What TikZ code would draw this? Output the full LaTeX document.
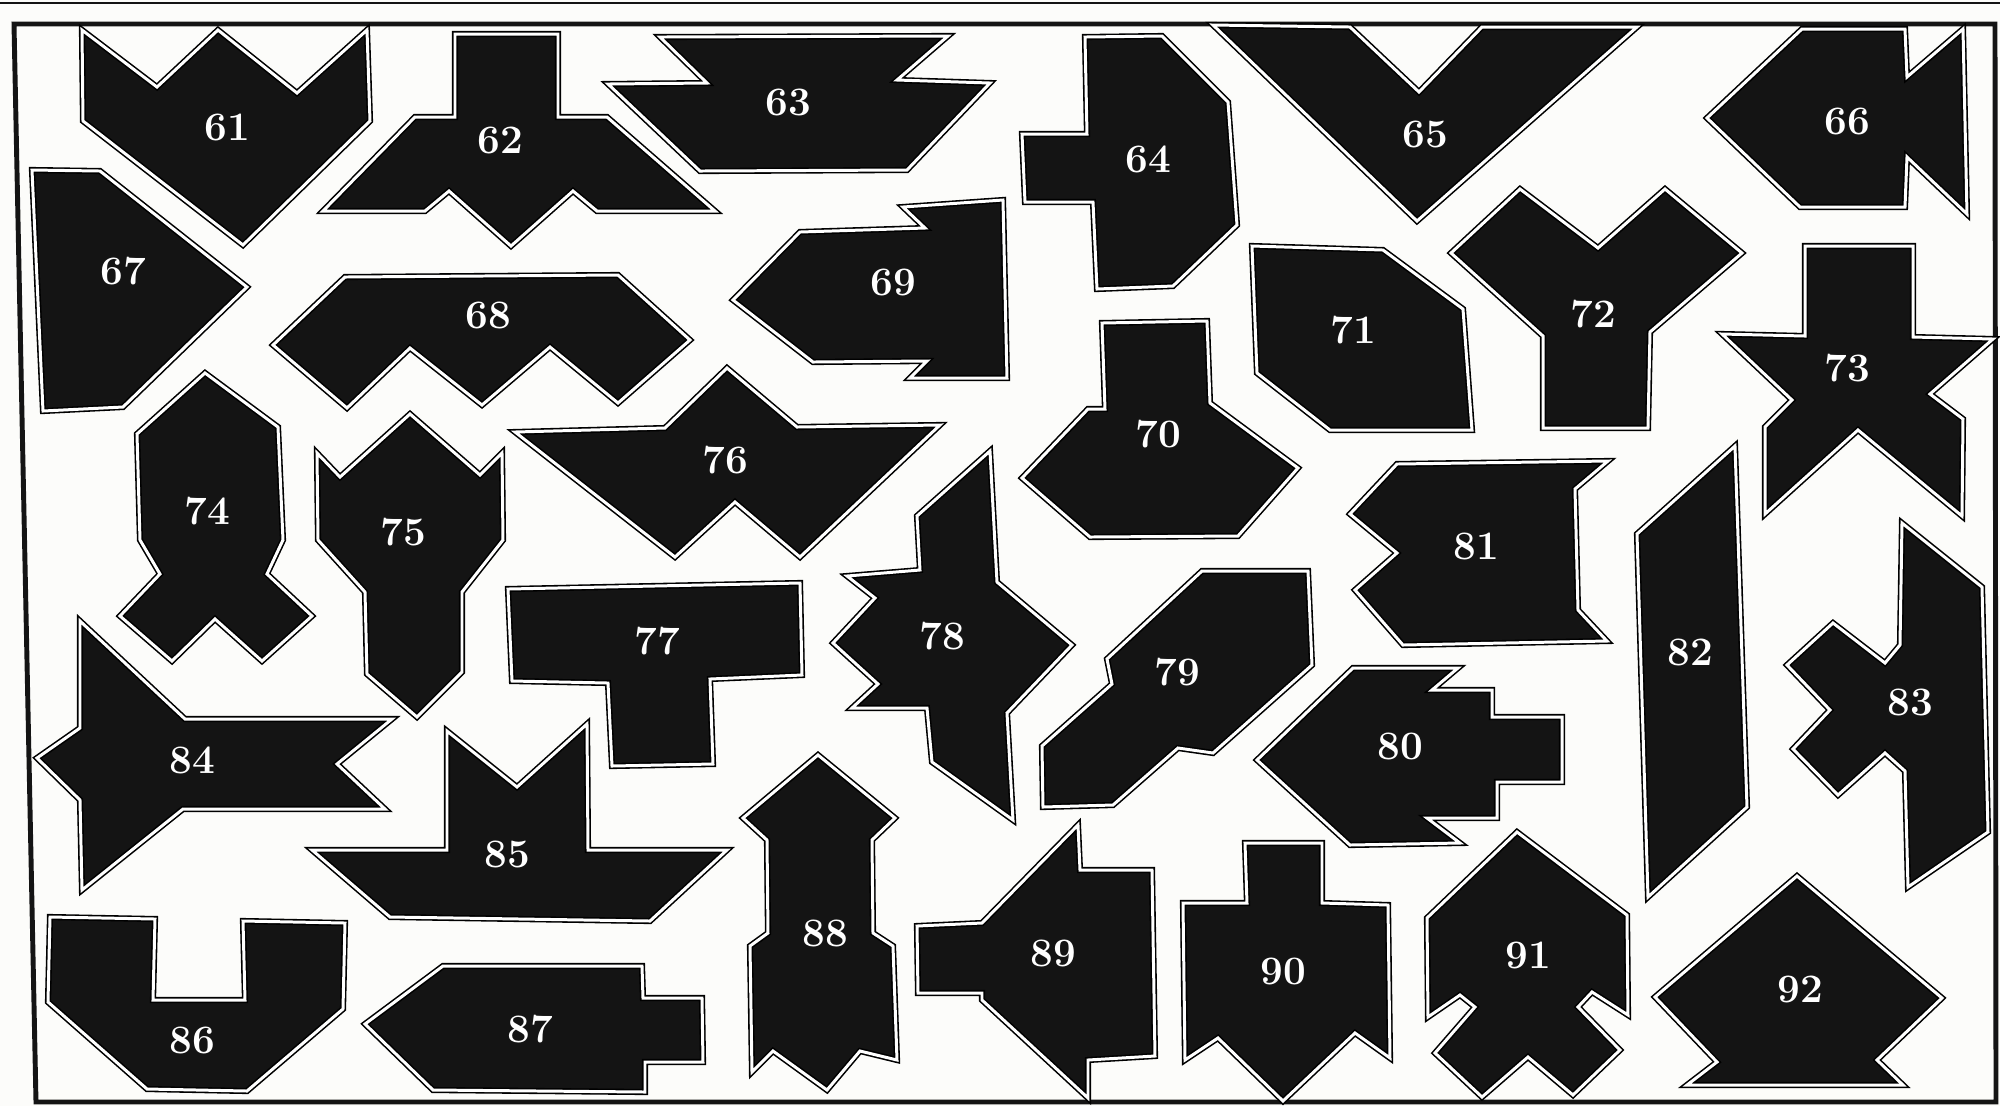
\documentclass[tikz,border=0pt]{standalone}
\usepackage{tikz}
\definecolor{ink}{RGB}{20,20,20}
\definecolor{paper}{RGB}{252,252,250}

\begin{document}
\begin{tikzpicture}[
    x=0.1mm, y=-0.1mm,
    piece/.style={fill=ink, draw=black, double=white, double distance=0.85pt,
                  line width=0.45pt, line join=miter},
    num/.style={text=white, font=\fontsize{11.5}{13}\selectfont\bfseries, inner sep=0pt},
    rule/.style={draw=ink, line width=1.4pt}
]
    \useasboundingbox (0,0) rectangle (2000,1106);
    \fill[paper] (0,0) rectangle (2000,1106);

    % frame
    \draw[ink, line width=0.8pt] (0,3) -- (2000,3);
    \draw[rule] (14,24) -- (1995,24) -- (1996,1102) -- (36,1102) -- cycle;

    % top row
    \draw[piece] (82,30) -- (157,87) -- (218,30) -- (297,93) -- (367,30)
        -- (370,121) -- (243,245) -- (83,121) -- cycle;
    \draw[piece] (455,34) -- (558,34) -- (558,117) -- (607,117) -- (715,211)
        -- (597,211) -- (573,191) -- (511,246) -- (449,191) -- (425,211)
        -- (323,211) -- (415,117) -- (455,117) -- cycle;
    \draw[piece] (660,37) -- (948,36) -- (897,80) -- (990,83) -- (907,170)
        -- (700,171) -- (608,84) -- (707,83) -- cycle;
    \draw[piece] (1085,37) -- (1162,36) -- (1228,102) -- (1237,225) -- (1173,286)
        -- (1097,289) -- (1093,202) -- (1025,202) -- (1022,134) -- (1087,134) -- cycle;
    \draw[piece] (1213,25) -- (1350,27) -- (1419,92) -- (1482,27) -- (1637,27)
        -- (1417,221) -- cycle;
    \draw[piece] (1707,118) -- (1802,29) -- (1905,29) -- (1907,77) -- (1963,29)
        -- (1967,214) -- (1907,157) -- (1905,207) -- (1800,207) -- cycle;

    % second row
    \draw[piece] (32,170) -- (100,171) -- (247,287) -- (123,407) -- (43,411) -- cycle;
    \draw[piece] (273,345) -- (345,277) -- (618,275) -- (690,340) -- (618,403)
        -- (550,347) -- (482,405) -- (410,348) -- (347,408) -- cycle;
    \draw[piece] (733,300) -- (800,232) -- (925,228) -- (903,207) -- (1003,200)
        -- (1007,378) -- (910,378) -- (927,361) -- (813,362) -- cycle;
    \draw[piece] (1102,323) -- (1207,321) -- (1210,403) -- (1298,468) -- (1238,536)
        -- (1090,537) -- (1022,478) -- (1088,409) -- (1105,409) -- cycle;
    \draw[piece] (1252,246) -- (1383,250) -- (1463,309) -- (1472,430) -- (1330,430)
        -- (1257,373) -- cycle;
    \draw[piece] (1520,189) -- (1598,248) -- (1665,189) -- (1742,253) -- (1650,332)
        -- (1648,428) -- (1543,428) -- (1543,336) -- (1451,253) -- cycle;
    \draw[piece] (1805,246) -- (1913,246) -- (1913,337) -- (1993,339) -- (1930,394)
        -- (1963,419) -- (1962,516) -- (1858,430) -- (1765,514) -- (1765,427)
        -- (1792,400) -- (1722,334) -- (1805,336) -- cycle;

    % third row
    \draw[piece] (205,373) -- (278,427) -- (283,540) -- (267,574) -- (312,616)
        -- (262,661) -- (215,619) -- (172,661) -- (120,616) -- (160,574)
        -- (140,540) -- (137,434) -- cycle;
    \draw[piece] (317,453) -- (340,477) -- (410,414) -- (480,475) -- (502,453)
        -- (503,540) -- (462,592) -- (462,672) -- (417,717) -- (367,674)
        -- (365,592) -- (318,540) -- cycle;
    \draw[piece] (515,432) -- (665,428) -- (727,368) -- (797,427) -- (940,425)
        -- (800,557) -- (735,502) -- (675,557) -- cycle;
    \draw[piece] (990,451) -- (997,582) -- (1072,645) -- (1007,713) -- (1013,820)
        -- (932,762) -- (927,708) -- (852,708) -- (878,684) -- (833,643)
        -- (875,598) -- (847,576) -- (920,570) -- (917,516) -- cycle;
    \draw[piece] (1397,464) -- (1608,461) -- (1575,489) -- (1578,610) -- (1607,641)
        -- (1403,645) -- (1355,590) -- (1397,553) -- (1350,514) -- cycle;
    \draw[piece] (1735,446) -- (1747,807) -- (1648,897) -- (1637,534) -- cycle;
    \draw[piece] (1902,523) -- (1982,587) -- (1988,832) -- (1908,887) -- (1905,771)
        -- (1885,753) -- (1838,795) -- (1793,749) -- (1830,710) -- (1787,665)
        -- (1833,623) -- (1885,663) -- (1900,645) -- cycle;

    % fourth row
    \draw[piece] (508,589) -- (800,583) -- (802,675) -- (710,679) -- (713,764)
        -- (612,766) -- (608,683) -- (512,681) -- cycle;
    \draw[piece] (1202,571) -- (1308,571) -- (1312,665) -- (1213,753) -- (1178,748)
        -- (1113,805) -- (1043,807) -- (1042,746) -- (1112,684) -- (1107,659) -- cycle;
    \draw[piece] (1257,760) -- (1353,668) -- (1458,668) -- (1432,690) -- (1492,690)
        -- (1492,717) -- (1562,717) -- (1562,782) -- (1497,782) -- (1497,818)
        -- (1427,818) -- (1460,843) -- (1350,845) -- cycle;
    \draw[piece] (80,621) -- (185,719) -- (392,719) -- (337,764) -- (385,809)
        -- (183,809) -- (82,890) -- (80,800) -- (37,758) -- (80,728) -- cycle;
    \draw[piece] (312,850) -- (447,850) -- (447,731) -- (517,787) -- (587,724)
        -- (588,850) -- (727,850) -- (650,921) -- (390,917) -- cycle;

    % bottom row
    \draw[piece] (50,917) -- (155,919) -- (153,1000) -- (245,1000) -- (243,921)
        -- (345,923) -- (343,1009) -- (247,1091) -- (147,1089) -- (48,1002) -- cycle;
    \draw[piece] (365,1024) -- (443,966) -- (642,966) -- (643,998) -- (702,998)
        -- (703,1062) -- (645,1062) -- (645,1092) -- (433,1090) -- cycle;
    \draw[piece] (818,755) -- (895,818) -- (872,840) -- (873,933) -- (893,946)
        -- (897,1060) -- (860,1051) -- (827,1090) -- (773,1051) -- (752,1072)
        -- (750,946) -- (768,933) -- (767,840) -- (743,818) -- cycle;
    \draw[piece] (1078,825) -- (1080,870) -- (1152,870) -- (1155,1056) -- (1088,1060)
        -- (1088,1098) -- (982,1000) -- (982,993) -- (918,993) -- (917,926)
        -- (982,923) -- cycle;
    \draw[piece] (1245,843) -- (1322,843) -- (1322,903) -- (1388,905) -- (1390,1058)
        -- (1355,1033) -- (1283,1101) -- (1218,1038) -- (1185,1060) -- (1183,903)
        -- (1247,903) -- cycle;
    \draw[piece] (1517,832) -- (1627,915) -- (1628,1015) -- (1592,992) -- (1578,1007)
        -- (1620,1050) -- (1573,1095) -- (1528,1057) -- (1482,1097) -- (1435,1053)
        -- (1475,1007) -- (1460,995) -- (1428,1017) -- (1427,918) -- cycle;
    \draw[piece] (1797,876) -- (1942,998) -- (1877,1060) -- (1903,1085) -- (1687,1085)
        -- (1717,1062) -- (1655,997) -- cycle;

    % numbers
    \node[num] (n61) at (227,127)  {61};
    \node[num] (n62) at (500,140)  {62};
    \node[num] (n63) at (788,102)  {63};
    \node[num] (n64) at (1148,159) {64};
    \node[num] (n65) at (1425,134) {65};
    \node[num] (n66) at (1847,121) {66};
    \node[num] (n67) at (123,271)  {67};
    \node[num] (n68) at (488,315)  {68};
    \node[num] (n69) at (893,282)  {69};
    \node[num] (n70) at (1158,434) {70};
    \node[num] (n71) at (1353,330) {71};
    \node[num] (n72) at (1593,314) {72};
    \node[num] (n73) at (1847,368) {73};
    \node[num] (n74) at (207,511)  {74};
    \node[num] (n75) at (403,532)  {75};
    \node[num] (n76) at (725,460)  {76};
    \node[num] (n77) at (657,641)  {77};
    \node[num] (n78) at (942,636)  {78};
    \node[num] (n79) at (1177,672) {79};
    \node[num] (n80) at (1400,746) {80};
    \node[num] (n81) at (1476,546) {81};
    \node[num] (n82) at (1690,652) {82};
    \node[num] (n83) at (1910,702) {83};
    \node[num] (n84) at (192,760)  {84};
    \node[num] (n85) at (507,854)  {85};
    \node[num] (n86) at (192,1040) {86};
    \node[num] (n87) at (530,1029) {87};
    \node[num] (n88) at (825,933)  {88};
    \node[num] (n89) at (1053,953) {89};
    \node[num] (n90) at (1283,971) {90};
    \node[num] (n91) at (1528,955) {91};
    \node[num] (n92) at (1800,989) {92};
\end{tikzpicture}
\end{document}
